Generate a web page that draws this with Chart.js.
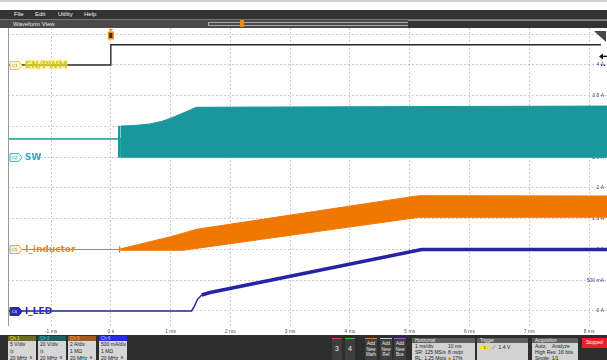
<!DOCTYPE html>
<html>
<head>
<meta charset="utf-8">
<script src="https://cdn.jsdelivr.net/npm/chart.js@4.4.0/dist/chart.umd.min.js"></script>
<style>
body { margin:0; width:607px; height:360px; overflow:hidden; background:#fff; position:relative; font-family:"Liberation Sans", "DejaVu Sans", sans-serif; }
#topline { position:absolute; left:0; top:0; width:607px; height:2px; background:#d0d0d0; }
#menu { position:absolute; left:0; top:10px; width:607px; height:9px; background:#333; color:#eee; font-size:6px; line-height:9px; }
#menu span { position:absolute; top:0; }
#wfv { position:absolute; left:0; top:19px; width:607px; height:9px; background:#4a4a4a; border-top:1px solid #777; box-sizing:border-box; color:#e8e8e8; font-size:6px; line-height:8px; }
#wfv .dark { position:absolute; left:408px; top:0; right:0; height:8px; background:#333; border-top:1px solid #888; box-sizing:border-box; }
#wfv .bracket { position:absolute; left:208px; top:2px; width:200px; height:4px; border:1px solid #aaa; border-right:none; box-sizing:border-box; }
#wfv .hpos { position:absolute; left:240px; top:0; width:4px; height:7px; background:#f08a10; border-radius:1px; }
#plot { position:absolute; left:0; top:28px; width:607px; height:307px; }
#panel { position:absolute; left:0; top:335px; width:607px; height:25px; background:#2d2d2d; font-size:5px; line-height:7px; color:#222; }
.ch { position:absolute; top:1px; width:28px; height:24px; background:#d6d6d6; }
.ch .hd { height:5px; line-height:5px; padding-left:2px; font-size:4.5px; }
.ch .bd { padding-left:2px; }
.btn { position:absolute; top:3px; width:10px; height:22px; background:#3e3e3e; color:#eee; text-align:center; border-top:1px solid #999; box-sizing:border-box; }
.btn.num { font-size:7px; line-height:20px; }
.btn.add { font-size:4.5px; line-height:5.5px; padding-top:2px; }
.box { position:absolute; top:3px; height:22px; background:#d2d2d2; }
.box .hd { height:5px; line-height:5px; background:#5e5e5e; color:#eee; padding-left:3px; font-size:4.5px; }
.box .bd { padding-left:3px; line-height:6px; position:relative; }
.box .r { position:absolute; left:36px; }
#stop { position:absolute; left:582px; top:3px; width:25px; height:10px; background:#e8202a; color:#fff; font-size:4.5px; line-height:10px; text-align:center; }
</style>
</head>
<body>
<div id="topline"></div>
<div id="menu"><span style="left:14px">File</span><span style="left:35px">Edit</span><span style="left:58px">Utility</span><span style="left:84px">Help</span></div>
<div id="wfv"><span style="position:absolute;left:13px">Waveform View</span><div class="dark"></div><div class="bracket"></div><div class="hpos"></div></div>
<div id="plot"><canvas id="scope" width="607" height="307"></canvas></div>
<div id="panel">
  <div class="ch" style="left:8px"><div class="hd" style="background:#6b6b22;color:#f0e850">Ch 1</div><div class="bd">5 V/div<br>/ᵦ<br>20 MHz &nbsp;ᴮ</div></div>
  <div class="ch" style="left:38px"><div class="hd" style="background:#1e5f60;color:#40d0d8">Ch 2</div><div class="bd">20 V/div<br>/ᵦ<br>20 MHz &nbsp;ᴮ</div></div>
  <div class="ch" style="left:68px"><div class="hd" style="background:#a45a1c;color:#ffb060">Ch 5</div><div class="bd">2 A/div<br>1 MΩ<br>20 MHz &nbsp;ᴮ</div></div>
  <div class="ch" style="left:99px"><div class="hd" style="background:#2a2ae0;color:#c8c8ff">Ch 6</div><div class="bd">500 mA/div<br>1 MΩ<br>20 MHz &nbsp;ᴮ</div></div>
  <div class="btn num" style="left:332px;border-top-color:#d04050">3</div>
  <div class="btn num" style="left:345px;border-top-color:#50b040">4</div>
  <div class="btn add" style="left:365px;width:12px;border-top-color:#e08020">Add<br>New<br>Math</div>
  <div class="btn add" style="left:380px;width:12px;border-top-color:#c8c8c8">Add<br>New<br>Ref</div>
  <div class="btn add" style="left:394px;width:12px;border-top-color:#a050d0">Add<br>New<br>Bus</div>
  <div class="box" style="left:412px;width:63px"><div class="hd">Horizontal</div><div class="bd">1 ms/div<span class="r">10 ms</span><br>SR: 125 MS/s<span class="r">8 ns/pt</span><br>RL: 1.25 Mpts<span class="r"><span style="color:#e08020">■</span> 17%</span></div></div>
  <div class="box" style="left:477px;width:51px"><div class="hd">Trigger</div><div class="bd" style="padding-top:1px"><span style="display:inline-block;width:9px;height:5px;line-height:5px;background:#f0e830;border-radius:1px;text-align:center;font-size:4px">1</span> &nbsp;⟋ &nbsp;1.4 V</div></div>
  <div class="box" style="left:532px;width:46px"><div class="hd">Acquisition</div><div class="bd">Auto,<span class="r" style="left:20px">Analyze</span><br>High Res: 16 bits<br>Single: 1/1</div></div>
  <div id="stop">Stopped</div>
</div>
<script>
// horizontal: 1 ms/div, values in ms
var timeMin = -1.72;
var timeMax = 8.3;

// Ch1 EN/PWM, volts
var enTime  = [-1.72, 0, 0, 8.2];
var enVolts = [0, 0, 3.3, 3.3];

// Ch2 SW node envelope, volts
var swTime  = [-1.72, 0.13, 0.13, 0.145, 0.145, 0.17, 0.17, 0.4, 0.65, 0.85, 1.0, 1.2, 1.43, 3.0, 8.3];
var swUpper = [11.9, 11.9, 20.3, 20.3, 11.9, 11.9, 20.3, 20.7, 21.6, 23.3, 25.4, 28.6, 32.5, 32.7, 33.3];
var swLower = [11.9, 11.9, 0, 0, 11.9, 11.9, 0, 0, 0, 0, 0, 0, 0, 0, 0];

// Ch5 inductor current envelope, amps
var indTime  = [-1.72, 0.14, 0.14, 0.152, 0.152, 0.17, 1.0, 1.21, 1.43, 5.15, 8.3];
var indUpper = [0, 0, 0.2, 0.2, 0, 0.05, 0.83, 1.06, 1.31, 3.50, 3.48];
var indLower = [0, 0, -0.2, -0.2, 0, -0.05, -0.05, -0.05, 0.07, 2.09, 2.10];

// Ch6 LED current, amps
var ledTime = [-1.72, 1.35, 1.40, 1.45, 1.52, 1.66, 5.2, 8.3];
var ledAmps = [0, 0, 0.08, 0.19, 0.26, 0.30, 1.0, 1.0];

// graticule in divisions, 0 = bottom line
var divMin = -0.488;
var divMax = 9.203;

function pairs(xs, ys) {
    return xs.map(function(x, i) { return {x: x, y: ys[i]}; });
}

// each channel gets its own hidden axis, scaled by volts (or amps) per div and its zero position
function chanAxis(perDiv, zeroDiv) {
    return {type: 'linear', display: false, min: (divMin - zeroDiv) * perDiv, max: (divMax - zeroDiv) * perDiv};
}

// no label overhang padding, the chart area has to fill the screen
function noPad(s) {
    s.paddingTop = 0;
    s.paddingBottom = 0;
    s.paddingLeft = 0;
    s.paddingRight = 0;
}

var teal = '#18989c';
var orange = '#f07800';
var blue = '#2424a4';

var tags = [
    {axis: 'c1', name: 'C1', text: 'EN/PWM', color: '#d8cc20', edge: '#e0d040', fillTag: '#fbf7c8', glow: 'rgba(240,232,110,0.55)'},
    {axis: 'c2', name: 'C2', text: 'SW', color: '#28aebc', edge: '#40c0c8', fillTag: '#e4f6f8', glow: null},
    {axis: 'c5', name: 'C5', text: 'I_inductor', color: '#f08a28', edge: '#f0a050', fillTag: '#fdf0e0', glow: null},
    {axis: 'y', name: 'C6', text: 'I_LED', color: '#2a2ab4', edge: '#2a2ab4', fillTag: '#2a2ab4', glow: null}
];

var overlay = {
    id: 'overlay',
    afterDatasetsDraw: function(chart) {
        var ctx = chart.ctx;
        var area = chart.chartArea;
        ctx.save();

        // left edge of the graticule
        ctx.strokeStyle = '#9a9a9a';
        ctx.lineWidth = 1;
        ctx.beginPath();
        ctx.moveTo(area.left + 0.5, area.top);
        ctx.lineTo(area.left + 0.5, area.bottom);
        ctx.stroke();

        // channel tags and names
        tags.forEach(function(tag) {
            var y = Math.round(chart.scales[tag.axis].getPixelForValue(0)) + 0.5;
            var x = area.left + 2;
            ctx.beginPath();
            ctx.moveTo(x, y - 4);
            ctx.lineTo(x + 9, y - 4);
            ctx.lineTo(x + 12, y);
            ctx.lineTo(x + 9, y + 4);
            ctx.lineTo(x, y + 4);
            ctx.closePath();
            ctx.fillStyle = tag.fillTag;
            ctx.fill();
            ctx.strokeStyle = tag.edge;
            ctx.stroke();
            ctx.fillStyle = tag.name === 'C6' ? '#fff' : '#777';
            ctx.font = '4px "Liberation Sans"';
            ctx.textAlign = 'left';
            ctx.textBaseline = 'middle';
            ctx.fillText(tag.name, x + 2, y);

            ctx.font = 'bold 9px "DejaVu Sans"';
            if (tag.glow) {
                ctx.strokeStyle = tag.glow;
                ctx.lineWidth = 2.5;
                ctx.strokeText(tag.text, x + 15, y);
                ctx.lineWidth = 1;
            }
            ctx.fillStyle = tag.color;
            ctx.fillText(tag.text, x + 15, y);
        });

        // trigger position marker
        var tx = chart.scales.x.getPixelForValue(0);
        ctx.fillStyle = '#f08a10';
        ctx.beginPath();
        ctx.moveTo(tx - 2.5, area.top + 1);
        ctx.lineTo(tx + 2.5, area.top + 1);
        ctx.lineTo(tx, area.top + 3.5);
        ctx.fill();
        ctx.fillRect(tx - 3, area.top + 3.5, 6, 8);
        ctx.fillStyle = '#3a2a10';
        ctx.fillRect(tx - 1.5, area.top + 5, 3, 5);

        // trigger level arrow on the right edge
        var ty = chart.scales.c1.getPixelForValue(1.4);
        ctx.fillStyle = '#111';
        ctx.beginPath();
        ctx.moveTo(area.right - 8, ty);
        ctx.lineTo(area.right - 4, ty - 3);
        ctx.lineTo(area.right - 4, ty + 3);
        ctx.fill();
        ctx.fillRect(area.right - 5, ty - 0.7, 5, 1.4);
        ctx.fillStyle = blue;
        ctx.fillRect(area.right - 6, ty + 8.5, 1.2, 1.2);
        ctx.fillRect(area.right - 3, ty + 8.5, 1.2, 1.2);

        // corner flag
        ctx.fillStyle = '#484848';
        ctx.beginPath();
        ctx.moveTo(area.right - 13, area.top + 3);
        ctx.lineTo(area.right - 1, area.top + 3);
        ctx.lineTo(area.right - 1, area.top + 14);
        ctx.closePath();
        ctx.fill();

        ctx.restore();
    }
};

var gridColor = 'rgba(0,0,0,0.2)';

var chart = new Chart(document.getElementById('scope'), {
    type: 'line',
    data: {
        datasets: [
            {data: pairs(enTime, enVolts), yAxisID: 'c1', borderColor: '#2b2b2b', borderWidth: 1.4},
            {data: pairs(swTime, swUpper), yAxisID: 'c2', borderColor: teal, borderWidth: 1, fill: false},
            {data: pairs(swTime, swLower), yAxisID: 'c2', borderColor: teal, backgroundColor: teal, borderWidth: 1, fill: '-1'},
            {data: pairs(indTime, indUpper), yAxisID: 'c5', borderColor: orange, borderWidth: 1, fill: false},
            {data: pairs(indTime, indLower), yAxisID: 'c5', borderColor: orange, backgroundColor: orange, borderWidth: 1, fill: '-1'},
            {data: pairs(ledTime, ledAmps), yAxisID: 'y', borderColor: blue, borderWidth: 1.5,
             segment: {borderWidth: function(c) { return c.p0.parsed.x >= 1.5 ? 3.5 : 1.5; }}}
        ]
    },
    options: {
        responsive: false,
        animation: false,
        devicePixelRatio: 1,
        layout: {padding: {left: 8, right: 0, top: 0, bottom: 0}},
        elements: {point: {radius: 0}, line: {tension: 0}},
        plugins: {legend: {display: false}, tooltip: {enabled: false}},
        scales: {
            x: {
                type: 'linear', min: timeMin, max: timeMax, z: 1,
                border: {display: false, dash: [2, 2]},
                grid: {color: gridColor, drawTicks: false},
                ticks: {
                    stepSize: 1, includeBounds: false, padding: 3, maxRotation: 0,
                    color: '#555', font: {size: 5, family: 'Liberation Sans'},
                    callback: function(v) { return v === 0 ? '0 s' : v + ' ms'; }
                },
                afterFit: function(s) { s.height = 9; noPad(s); }
            },
            y: {
                type: 'linear', position: 'right', z: 1,
                min: divMin * 0.5, max: divMax * 0.5,
                border: {display: false, dash: [2, 2]},
                grid: {color: gridColor, drawTicks: false},
                ticks: {
                    stepSize: 0.5, includeBounds: false, mirror: true, padding: -3,
                    color: '#3c3c8c', font: {size: 5, family: 'Liberation Sans'},
                    callback: function(v) {
                        if (v > 4.2) return '';
                        if (v === 0.5) return '500 mA';
                        return v + ' A';
                    }
                },
                afterFit: function(s) { s.width = 0; noPad(s); }
            },
            c1: chanAxis(5, 8),
            c2: chanAxis(20, 5),
            c5: chanAxis(2, 2)
        }
    },
    plugins: [overlay]
});
</script>
</body>
</html>
